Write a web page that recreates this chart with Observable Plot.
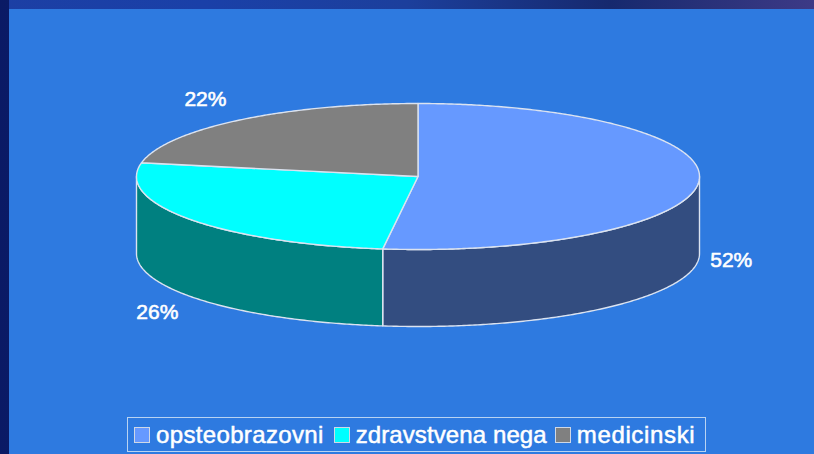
<!DOCTYPE html>
<html>
<head>
<meta charset="utf-8">
<script src="https://cdn.jsdelivr.net/npm/d3@7"></script>
<script src="https://cdn.jsdelivr.net/npm/@observablehq/plot@0.6"></script>
<style>
  html, body { margin: 0; padding: 0; width: 814px; height: 454px; overflow: hidden; }
  body { position: relative; font-family: "Liberation Sans", Arial, sans-serif;
         background:
           linear-gradient(90deg, rgba(4,14,80,.75) 0, rgba(4,14,80,.75) 9px, transparent 9px),
           linear-gradient(90deg, #1c3fa4 0%, #1a40a8 25%, #1c3f9c 50%, #16296e 75%, #3d3a86 100%); }
  #panel { position: absolute; left: 9px; top: 9px; right: 0; bottom: 0; background: #2e7ae0; }
  #chart { position: absolute; left: 0; top: 0; }
  #chart svg { background: transparent; display: block; }
  #legend { position: absolute; left: 127px; top: 417px; width: 577px; height: 33px; box-sizing: content-box;
            border: 1px solid #b9d3f2; display: flex; align-items: center; color: #fff;
            font-size: 24px; line-height: 33px; letter-spacing: 0.35px; -webkit-text-stroke: 0.5px #fff; white-space: nowrap; }
  #legend i { display: inline-block; width: 14px; height: 14px; border: 1px solid #cfd8e6; margin: 0 6px 0 6px; flex: none; }
  #legend span { margin-right: 4px; }
  #legend span:nth-of-type(2) { letter-spacing: 0.1px; margin-right: 2px; }
  #legend span:nth-of-type(3) { letter-spacing: 0.65px; }
</style>
</head>
<body>
<div id="panel"></div>
<div id="chart"></div>
<div id="legend"></div>
<script>
const categories = ["opsteobrazovni", "zdravstvena nega", "medicinski"];
const shares = [52, 26, 22];
const labels = ["52%", "26%", "22%"];
const topColors = ["#6699ff", "#00ffff", "#808080"];
const wallColors = ["#334d80", "#008080", "#404040"];

const edge = "#dbe3f0";
const depth = 77 / 73;            // wall height, in units of the ellipse's minor radius
const total = d3.sum(shares);
const cum = d3.cumsum(shares);
const slices = categories.map((name, i) => ({
  name, share: shares[i], label: labels[i], top: topColors[i], wall: wallColors[i],
  a0: ((cum[i] - shares[i]) / total) * 2 * Math.PI,
  a1: (cum[i] / total) * 2 * Math.PI
}));

const px = a => Math.sin(a);
const py = a => Math.cos(a);
const arc = (a0, a1, off = 0) => {
  const n = Math.max(2, Math.ceil((a1 - a0) / 0.01));
  return d3.range(n + 1).map(k => {
    const a = a0 + (a1 - a0) * k / n;
    return { x: px(a), y: py(a) - off };
  });
};
const close = pts => [...pts, pts[0]];

const wallShape = s => {
  // only the front half of the rim (right-most to left-most point) is visible
  const a0 = Math.max(s.a0, Math.PI / 2), a1 = Math.min(s.a1, 3 * Math.PI / 2);
  if (a1 <= a0) return null;
  return close([...arc(a0, a1), ...arc(a0, a1, depth).reverse()]);
};
const topShape = s => close([{ x: 0, y: 0 }, ...arc(s.a0, s.a1)]);

const shape = (pts, fill) => Plot.line(pts, {
  x: "x", y: "y", fill, stroke: edge, strokeWidth: 1.4, strokeLinejoin: "round"
});

const labelNudge = [-7, -1, -8];
const labelPoint = s => {
  const m = (s.a0 + s.a1) / 2;
  const below = py(m) < 0;
  return { x: 1.14 * px(m), y: 1.37 * py(m) - (below ? depth : 0), label: s.label };
};

const chart = Plot.plot({
  width: 814,
  height: 454,
  margin: 0,
  style: { background: "transparent", overflow: "visible" },
  x: { domain: [-1, 1], range: [136, 699], axis: null },
  y: { domain: [-1, 1], range: [249, 103], axis: null },
  marks: [
    ...slices.map(s => wallShape(s)).map((pts, i) => pts && shape(pts, slices[i].wall)).filter(Boolean),
    ...slices.map(s => shape(topShape(s), s.top)),
    ...slices.map((s, i) => Plot.text([labelPoint(s)], {
      x: "x", y: "y", text: "label", dx: labelNudge[i],
      fill: "#ffffff", stroke: "#ffffff", strokeWidth: 0.6,
      fontSize: 21, fontFamily: "Liberation Sans, Arial, sans-serif"
    }))
  ]
});
document.getElementById("chart").appendChild(chart);

const legend = document.getElementById("legend");
slices.forEach(s => {
  const sw = document.createElement("i");
  sw.style.background = s.top;
  const t = document.createElement("span");
  t.textContent = s.name;
  legend.append(sw, t);
});
</script>
</body>
</html>
